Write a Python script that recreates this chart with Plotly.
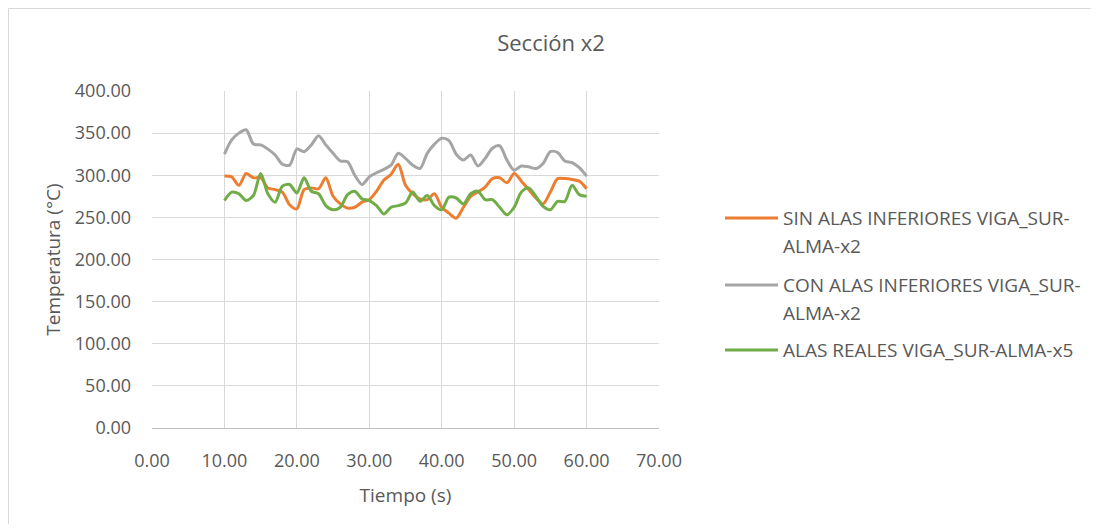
import plotly.graph_objects as go

tiempo = list(range(10, 61))

sin_alas = [299, 298, 288, 302, 297, 297, 285, 283, 280, 265,
            260, 283, 285, 284, 297, 275, 266, 261, 262, 268,
            271, 281, 294, 301, 313, 288, 278, 272, 271, 278,
            262, 255, 249, 262, 275, 280, 286, 296, 297, 291,
            302, 293, 283, 273, 266, 280, 296, 296, 295, 293, 284]

con_alas = [325, 342, 350, 354, 337, 336, 331, 324, 313, 312,
            331, 328, 336, 347, 336, 326, 317, 316, 300, 289,
            298, 303, 307, 312, 326, 320, 312, 308, 326, 337,
            344, 341, 325, 318, 324, 311, 320, 332, 335, 318,
            306, 311, 310, 308, 314, 328, 327, 317, 315, 309, 299]

alas_reales = [270, 280, 278, 270, 276, 302, 278, 268, 287, 289,
               279, 297, 281, 278, 264, 259, 262, 277, 281, 272,
               270, 264, 254, 262, 264, 267, 280, 269, 276, 264,
               259, 274, 273, 266, 278, 281, 271, 271, 262, 253,
               262, 280, 285, 275, 263, 259, 269, 269, 288, 277, 275]

series_names = ["SIN ALAS INFERIORES VIGA_SUR-ALMA-x2",
                "CON ALAS INFERIORES VIGA_SUR-ALMA-x2",
                "ALAS REALES VIGA_SUR-ALMA-x5"]
legend_lines = [["SIN ALAS INFERIORES VIGA_SUR-", "ALMA-x2"],
                ["CON ALAS INFERIORES VIGA_SUR-", "ALMA-x2"],
                ["ALAS REALES VIGA_SUR-ALMA-x5"]]
series_colors = ["#ED7D31", "#A5A5A5", "#70AD47"]

FONT = "Open Sans"
TXT = "#595959"

# page body has an 8px default margin: figure origin sits at (8, 8) in the window
OFF = 8
W, H = 1099 - OFF, 532 - 2 * OFF
PL, PR, PT, PB = 152 - OFF, 659 - OFF, 91 - OFF, 428 - OFF   # plot area in figure px
L, R, T, B = PL, W - PR, PT, H - PB


def px_x(x):  # window px -> paper x
    return (x - OFF - PL) / (PR - PL)


def px_y(y):  # window px -> paper y
    return (PB - (y - OFF)) / (PB - PT)


fig = go.Figure()
for name, vals, col in zip(series_names, [sin_alas, con_alas, alas_reales], series_colors):
    fig.add_trace(go.Scatter(x=tiempo, y=vals, name=name, mode="lines", showlegend=False,
                             line=dict(color=col, width=3, shape="spline", smoothing=0.8)))

fig.update_layout(
    width=W, height=H,
    margin=dict(l=L, r=R, t=T, b=B, autoexpand=False),
    paper_bgcolor="white", plot_bgcolor="white",
    font=dict(family=FONT, color=TXT, size=18),
    title=dict(text="Sección x2", x=(551 - OFF) / W, xanchor="center",
               y=1 - (43 - OFF) / H, yanchor="middle",
               font=dict(family=FONT, size=22, color=TXT)),
    xaxis=dict(range=[0, 70], dtick=10, tickformat=".2f", showgrid=True, gridcolor="#D9D9D9",
               gridwidth=1, zeroline=False, showline=True, linecolor="#BFBFBF", linewidth=1,
               ticks="", ticklabelstandoff=16, tickfont=dict(size=18, color=TXT),
               title=dict(text="Tiempo (s)", standoff=18, font=dict(size=19, color=TXT))),
    yaxis=dict(range=[0, 400], dtick=50, tickformat=".2f", showgrid=True, gridcolor="#D9D9D9",
               gridwidth=1, zeroline=False, showline=False, ticks="", ticklabelstandoff=20,
               tickfont=dict(size=18, color=TXT),
               title=dict(text="Temperatura (°C)", standoff=9, font=dict(size=19, color=TXT))),
    showlegend=False,
)

# legend drawn as sample lines + text rows
legend_y = [218, 285, 350]
for lines, col, y0 in zip(legend_lines, series_colors, legend_y):
    fig.add_shape(type="line", xref="paper", yref="paper",
                  x0=px_x(725), x1=px_x(778), y0=px_y(y0), y1=px_y(y0),
                  line=dict(color=col, width=3))
    for k, t in enumerate(lines):
        fig.add_annotation(text=t, xref="paper", yref="paper", x=px_x(781), y=px_y(y0 + 28 * k),
                           xanchor="left", yanchor="middle", showarrow=False,
                           font=dict(size=19, color=TXT, family=FONT))

# outer chart border (Excel chart area): only top and left edges are visible
fig.add_shape(type="line", xref="paper", yref="paper",
              x0=px_x(8.5), x1=px_x(1099), y0=px_y(8.5), y1=px_y(8.5),
              line=dict(color="#D9D9D9", width=1), layer="below")
fig.add_shape(type="line", xref="paper", yref="paper",
              x0=px_x(8.5), x1=px_x(8.5), y0=px_y(8.5), y1=px_y(532),
              line=dict(color="#D9D9D9", width=1), layer="below")

fig.write_html("out.html")
